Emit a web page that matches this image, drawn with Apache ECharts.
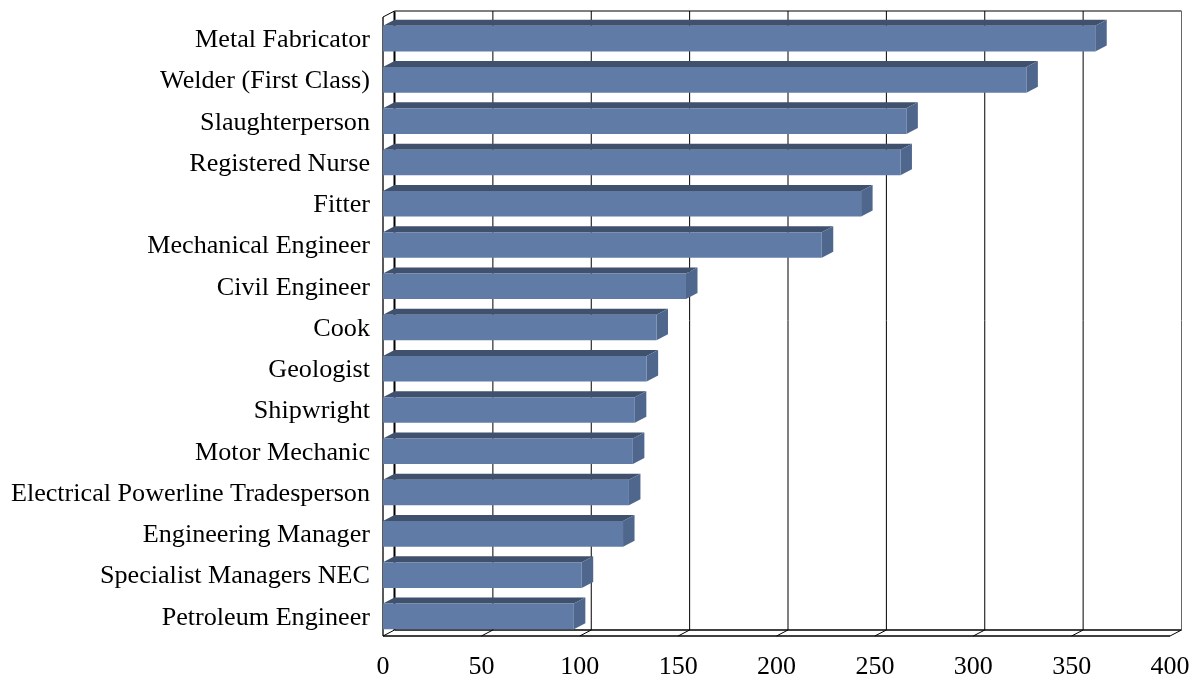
<!DOCTYPE html>
<html>
<head>
<meta charset="utf-8">
<style>
    html, body { margin: 0; padding: 0; background: #fff; }
    #main { width: 1202px; height: 676px; }
</style>
<script src="https://cdn.jsdelivr.net/npm/echarts@6/dist/echarts.min.js"></script>
</head>
<body>
<div id="main"></div>
<script>
// chart data, top bar first
var occupations = ['Metal Fabricator', 'Welder (First Class)', 'Slaughterperson', 'Registered Nurse',
    'Fitter', 'Mechanical Engineer', 'Civil Engineer', 'Cook', 'Geologist', 'Shipwright', 'Motor Mechanic',
    'Electrical Powerline Tradesperson', 'Engineering Manager', 'Specialist Managers NEC', 'Petroleum Engineer'];
var counts = [362, 327, 266, 263, 243, 223, 154, 139, 134, 128, 127, 125, 122, 101, 97];
var xTicks = [0, 50, 100, 150, 200, 250, 300, 350, 400];

// 3d look
var DX = 11.5, DY = 6;
var FRONT = '#617ba7', TOP = '#3f516d', SIDE = '#50678d';

var chart = echarts.init(document.getElementById('main'));

function line(x1, y1, x2, y2, color, width) {
    return {
        type: 'line',
        shape: { x1: x1, y1: y1, x2: x2, y2: y2 },
        style: { stroke: color, lineWidth: width || 1 }
    };
}

function poly(points, color) {
    return { type: 'polygon', shape: { points: points }, style: { fill: color } };
}

// back wall, floor and gridlines, one group per tick
function renderWall(params, api) {
    var cs = params.coordSys;
    var x = api.coord([api.value(0), 0])[0];
    var top = cs.y, bottom = cs.y + cs.height;
    var kids = [];
    var first = api.value(0) === xTicks[0];
    var last = api.value(0) === xTicks[xTicks.length - 1];

    kids.push(line(x + DX, top - DY, x + DX, bottom - DY, last ? '#666' : '#000', first ? 2 : 1));
    kids.push(line(x, bottom, x + DX, bottom - DY, '#000', 1));
    if (first) {
        var right = cs.x + cs.width;
        kids.push(line(x, top, x, bottom, '#222', 1.5));
        kids.push(line(x, top, x + DX, top - DY, '#000', 1));
        kids.push(line(x + DX, top - DY, right + DX, top - DY, '#555', 1.5));
        kids.push(line(x + DX, bottom - DY, right + DX, bottom - DY, '#000', 1.5));
        kids.push(line(x, bottom, right, bottom, '#000', 1.5));
    }
    return { type: 'group', children: kids };
}

function renderBar(params, api) {
    var end = api.coord([api.value(0), api.value(1)]);
    var start = api.coord([0, api.value(1)]);
    var h = api.size([0, 1])[1] * 0.62;
    var x0 = start[0], x1 = end[0];
    var y0 = end[1] - h / 2 + 1, y1 = end[1] + h / 2 + 1;
    return {
        type: 'group',
        children: [
            poly([[x0, y0], [x0 + DX, y0 - DY], [x1 + DX, y0 - DY], [x1, y0]], TOP),
            poly([[x1, y0], [x1 + DX, y0 - DY], [x1 + DX, y1 - DY], [x1, y1]], SIDE),
            poly([[x0, y0], [x1, y0], [x1, y1], [x0, y1]], FRONT)
        ]
    };
}

var option = {
    animation: false,
    backgroundColor: '#fff',
    textStyle: { fontFamily: 'Liberation Serif' },
    grid: { left: 383, right: 32, top: 17, bottom: 40, outerBoundsMode: 'none' },
    xAxis: {
        type: 'value',
        min: 0,
        max: 400,
        interval: 50,
        axisLine: { show: false },
        axisTick: { show: false },
        splitLine: { show: false },
        axisLabel: { color: '#000', fontSize: 26, fontFamily: 'Liberation Serif', margin: 18 }
    },
    yAxis: {
        type: 'category',
        inverse: true,
        data: occupations,
        axisLine: { show: false },
        axisTick: { show: false },
        // text sits a little below the band centre in the original
        axisLabel: { color: '#000', fontSize: 26.15, fontFamily: 'Liberation Serif', margin: 13, interval: 0, verticalAlign: 'top', lineHeight: 5 }
    },
    series: [{
        type: 'custom',
        z: 1,
        silent: true,
        clip: false,
        renderItem: renderWall,
        encode: { x: 0, y: 1 },
        data: xTicks.map(function (t) { return [t, 0]; })
    }, {
        type: 'custom',
        z: 2,
        clip: false,
        renderItem: renderBar,
        encode: { x: 0, y: 1 },
        data: counts.map(function (c, i) { return [c, i]; })
    }]
};

chart.setOption(option);
</script>
</body>
</html>
